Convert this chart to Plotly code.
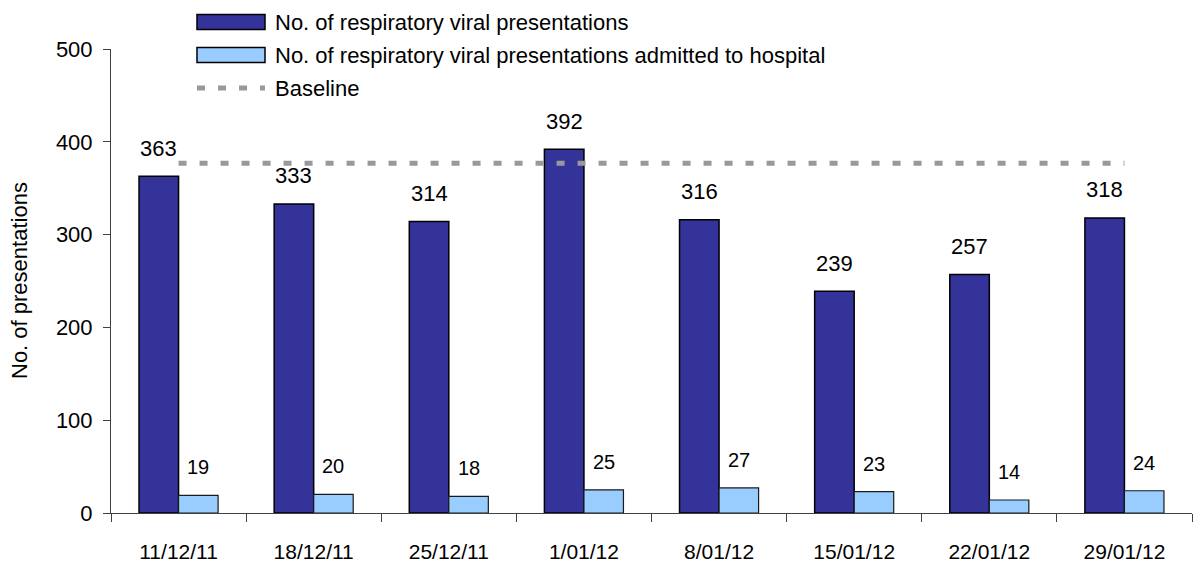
import plotly.graph_objects as go

weeks = ["11/12/11", "18/12/11", "25/12/11", "1/01/12", "8/01/12", "15/01/12", "22/01/12", "29/01/12"]
presentations = [363, 333, 314, 392, 316, 239, 257, 318]
admitted = [19, 20, 18, 25, 27, 23, 14, 24]
baseline = [377, 377, 377, 377, 377, 377, 377, 377]

names = ["No. of respiratory viral presentations",
         "No. of respiratory viral presentations admitted to hospital",
         "Baseline"]

W, H = 1193, 562
ML, MR, MT, MB = 111, 1, 49, 49
BARGAP = 0.415
FONT = "Liberation Sans, Arial, sans-serif"
DARK, LIGHT, BASE = "#333399", "#99CCFF", "#999999"
BASE_DASH = "8px,13px"

fig = go.Figure()
fig.add_trace(go.Bar(x=weeks, y=presentations, name=names[0], showlegend=False,
                     marker=dict(color=DARK, line=dict(color="#000000", width=1.5))))
fig.add_trace(go.Bar(x=weeks, y=admitted, name=names[1], showlegend=False,
                     marker=dict(color=LIGHT, line=dict(color="#1a1a1a", width=1.2))))
fig.add_trace(go.Scatter(x=weeks, y=baseline, name=names[2], mode="lines", showlegend=False,
                         line=dict(color=BASE, width=5, dash=BASE_DASH)))

plot_w = W - ML - MR
plot_h = H - MT - MB
cat_w = plot_w / len(weeks)
bar_w = cat_w * (1 - BARGAP) / 2

# value labels above bars
for ys, sh, fs in ((presentations, -bar_w / 2, 22), (admitted, bar_w / 2, 20)):
    for xv, yv in zip(weeks, ys):
        fig.add_annotation(x=xv, y=yv, text=str(yv), showarrow=False,
                           xshift=sh, yshift=28, yanchor="middle",
                           font=dict(size=fs, color="#000000"))

# y-axis title
fig.add_annotation(xref="paper", yref="paper", x=0, y=0.5, xshift=-92, xanchor="center",
                   yanchor="middle", text="No. of presentations", textangle=-90,
                   showarrow=False, font=dict(size=22, color="#000000"))

# legend (drawn to match the wide swatches of the original)
def px_x(px):
    return (px - ML) / plot_w

def px_y(py):
    return (H - MB - py) / plot_h

sw_x0, sw_x1, txt_x = 197, 265, 273
rows = [22, 55, 88]
for name, row, kind in zip(names, rows, ["dark", "light", "line"]):
    if kind == "line":
        fig.add_shape(type="line", xref="paper", yref="paper",
                      x0=px_x(sw_x0), x1=px_x(sw_x1), y0=px_y(row), y1=px_y(row),
                      line=dict(color=BASE, width=5, dash=BASE_DASH))
    else:
        fig.add_shape(type="rect", xref="paper", yref="paper",
                      x0=px_x(sw_x0), x1=px_x(sw_x1), y0=px_y(row - 7.5), y1=px_y(row + 7.5),
                      fillcolor=DARK if kind == "dark" else LIGHT,
                      line=dict(color="#000000", width=1.5))
    fig.add_annotation(xref="paper", yref="paper", x=px_x(txt_x), y=px_y(row),
                       xanchor="left", yanchor="middle", text=name, showarrow=False,
                       font=dict(size=22, color="#000000"))

axis_col = "#404040"
fig.update_layout(
    width=W, height=H,
    margin=dict(l=ML, r=MR, t=MT, b=MB, autoexpand=False),
    plot_bgcolor="white", paper_bgcolor="white",
    font=dict(family=FONT, size=22, color="#000000"),
    barmode="group", bargap=BARGAP, bargroupgap=0,
    showlegend=False,
    xaxis=dict(type="category", showline=True, linecolor=axis_col, linewidth=1,
               ticks="outside", tickson="boundaries", ticklen=8, tickcolor=axis_col,
               tickfont=dict(size=21), ticklabelstandoff=20, showgrid=False, zeroline=False),
    yaxis=dict(range=[0, 500], dtick=100, showline=True, linecolor=axis_col, linewidth=1,
               ticks="outside", ticklen=7, tickcolor=axis_col, tickfont=dict(size=22),
               ticklabelstandoff=6, showgrid=False, zeroline=False),
    xaxis2=dict(overlaying="x", anchor="y", range=[-0.5, len(weeks) - 0.5],
                tickvals=[i + 0.5 for i in range(len(weeks) - 1)], ticks="inside",
                ticklen=8, tickcolor=axis_col, showticklabels=False, showgrid=False,
                zeroline=False, showline=False),
    yaxis2=dict(overlaying="y", anchor="x", range=[0, 500], dtick=100, ticks="inside",
                ticklen=7, tickcolor=axis_col, showticklabels=False, showgrid=False,
                zeroline=False, showline=False),
)

fig.write_html("out.html", config={"displayModeBar": False},
               post_script="document.body.style.margin='0';document.body.style.overflow='hidden';")
